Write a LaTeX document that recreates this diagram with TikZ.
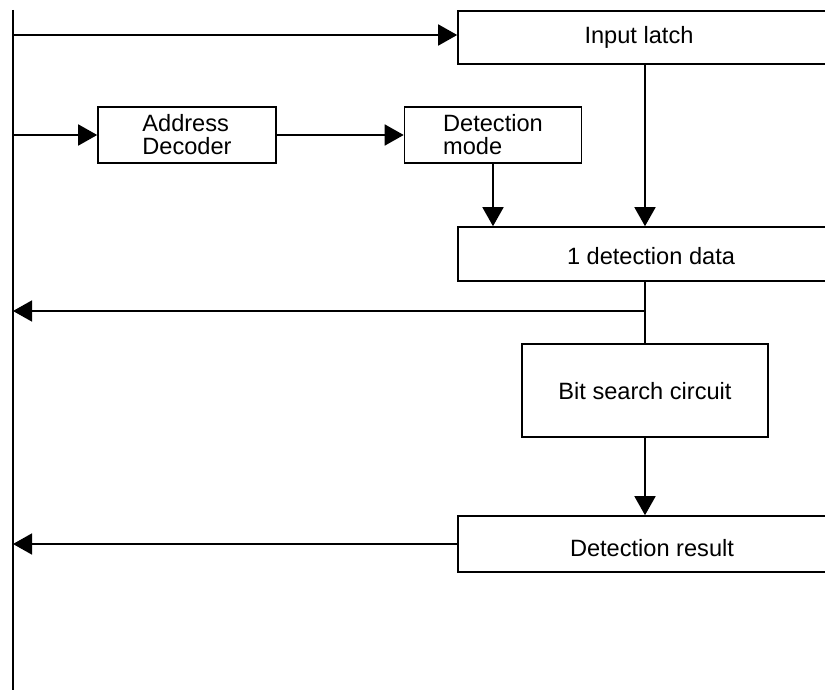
\documentclass[tikz,border=0pt]{standalone}
\usepackage{fontspec}
\setmainfont{Liberation Sans}
\usetikzlibrary{arrows.meta}
\begin{document}
\begin{tikzpicture}[x=1pt,y=-1pt,
  every node/.style={font=\fontsize{23.6}{23}\selectfont},
  box/.style={draw,line width=1.6pt,inner sep=0pt},
  wbox/.style={box,minimum width=374,text height=17pt,text depth=0pt},
  arr/.style={line width=1.6pt,-{Triangle[length=19pt,width=21pt]}},
  wire/.style={line width=1.6pt}]
\useasboundingbox (0,0) rectangle (825,690);
\clip (0,0) rectangle (825,690);
% bus on the left
\coordinate (bustop) at (13,10);
\coordinate (busbot) at (13,690);
\draw[line width=2.7pt] (bustop) -- (busbot);
\coordinate (b1) at (13,35);
\coordinate (b2) at (13,135);
\coordinate (b3) at (13,311);
% blocks
\node[wbox,minimum height=53,label={[xshift=-6pt]center:Input latch}] (latch) at (645,37.5) {};
\node[box,minimum width=178,minimum height=56,align=left] (dec) at (187,135) {Address\\Decoder};
\node[box,minimum width=177,minimum height=56,align=left] (mode) at (493,135) {Detection\\mode};
\node[wbox,minimum height=54,label={[xshift=6pt,yshift=-2pt]center:1 detection data}] (data) at (645,254) {};
\node[box,minimum width=246,minimum height=93,text height=17pt,text depth=0pt] (bits) at (645,390.5) {Bit search circuit};
\node[wbox,minimum height=56,label={[xshift=7pt,yshift=-4pt]center:Detection result}] (res) at (645,544) {};
% connectors
\draw[arr] (b1) -- (b1 -| latch.west);
\draw[arr] (b2) -- (dec);
\draw[arr] (dec) -- (mode);
\draw[arr] (mode.south) -- (mode.south |- data.north);
\draw[arr] (latch) -- (data);
\draw[wire] (data) -- (bits);
\draw[arr] (data.south |- b3) -- (b3);
\draw[arr] (bits) -- (res);
\draw[arr] (res.west) -- (res.west -| b1);
\end{tikzpicture}
\end{document}
